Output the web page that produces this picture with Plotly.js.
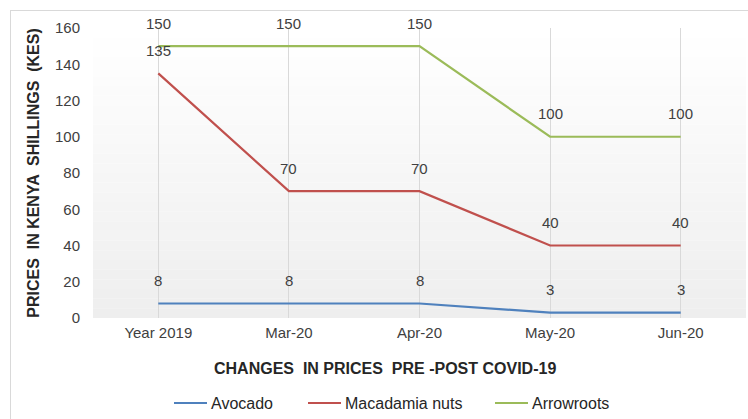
<!DOCTYPE html>
<html><head><meta charset="utf-8">
<script src="https://cdn.plot.ly/plotly-3.0.1.min.js"></script>
<style>
html,body{margin:0;padding:0;background:#fff;}
#frame{position:absolute;left:10px;top:10px;width:760px;height:430px;border:1px solid #d9d9d9;box-sizing:border-box;}
#chart{position:absolute;left:0;top:0;width:748px;height:419px;}
</style></head>
<body>
<div id="frame"></div>
<div id="chart"></div>
<script>
const categories = ["Year 2019", "Mar-20", "Apr-20", "May-20", "Jun-20"];
const avocado = [8, 8, 8, 3, 3];
const macadamia = [135, 70, 70, 40, 40];
const arrowroots = [150, 150, 150, 100, 100];
const seriesNames = ["Avocado", "Macadamia nuts", "Arrowroots"];
const yTicks = [0, 20, 40, 60, 80, 100, 120, 140, 160];

const colors = ["#4F81BD", "#C0504D", "#9BBB59"];
const allSeries = [avocado, macadamia, arrowroots];
const font = "Liberation Sans, Arial, sans-serif";

// plot area geometry in pixels (for paper-coordinate conversion of legend)
const L = 93, R = 746, T = 28, B = 318;
const px2x = (px) => (px - L) / (R - L);
const py2y = (py) => (B - py) / (B - T);

const traces = allSeries.map((vals, i) => ({
  type: "scatter", mode: "lines", x: categories, y: vals, name: seriesNames[i],
  line: {color: colors[i], width: 2.2}, hoverinfo: "skip", showlegend: false
}));

const annotations = [];
allSeries.forEach((vals) => {
  vals.forEach((v, j) => {
    annotations.push({x: categories[j], y: v, xref: "x", yref: "y", text: String(v),
      showarrow: false, yshift: 23, font: {family: font, size: 15, color: "#404040"}});
  });
});
annotations.push({xref: "paper", yref: "paper", x: px2x(385), y: py2y(368), yanchor: "middle",
  text: "<b>CHANGES  IN PRICES  PRE -POST COVID-19</b>", showarrow: false,
  font: {family: font, size: 16, color: "#262626"}});

const shapes = [];
const N = 30;
for (let k = 0; k < N; k++) {
  const t = k / (N - 1);
  const c = Math.round(255 - 17 * t);
  shapes.push({type: "rect", xref: "paper", yref: "paper", x0: 0, x1: 1,
    y0: 1 - (k + 1) / N, y1: 1 - k / N, line: {width: 0},
    fillcolor: `rgb(${c},${c},${c})`, layer: "below"});
}

// manual legend
const legendLineStart = [174, 308, 495];
const legendY = py2y(403);
seriesNames.forEach((name, i) => {
  const x0 = legendLineStart[i];
  shapes.push({type: "line", xref: "paper", yref: "paper", x0: px2x(x0), x1: px2x(x0 + 33),
    y0: legendY, y1: legendY, line: {color: colors[i], width: 2.2}});
  annotations.push({xref: "paper", yref: "paper", x: px2x(x0 + 35), y: legendY,
    xanchor: "left", yanchor: "middle", text: name, showarrow: false,
    font: {family: font, size: 16, color: "#262626"}});
});

const layout = {
  width: 748, height: 419,
  margin: {l: L, r: 748 - R, t: T, b: 419 - B},
  paper_bgcolor: "rgba(0,0,0,0)", plot_bgcolor: "rgba(0,0,0,0)",
  showlegend: false,
  xaxis: {type: "category", showgrid: true, gridcolor: "#d9d9d9", gridwidth: 1,
    zeroline: false, showline: false, ticks: "", ticklabelstandoff: 4,
    tickfont: {family: font, size: 15, color: "#404040"}, range: [-0.5, 4.5]},
  yaxis: {range: [0, 160], tickvals: yTicks, showgrid: false, zeroline: false,
    showline: false, ticks: "", ticklabelstandoff: 12,
    tickfont: {family: font, size: 15, color: "#404040"},
    title: {text: "<b>PRICES  IN KENYA  SHILLINGS  (KES)</b>", standoff: 11,
      font: {family: font, size: 16, color: "#262626"}}},
  annotations: annotations,
  shapes: shapes
};

Plotly.newPlot("chart", traces, layout, {displayModeBar: false, staticPlot: true});
</script>
</body></html>
